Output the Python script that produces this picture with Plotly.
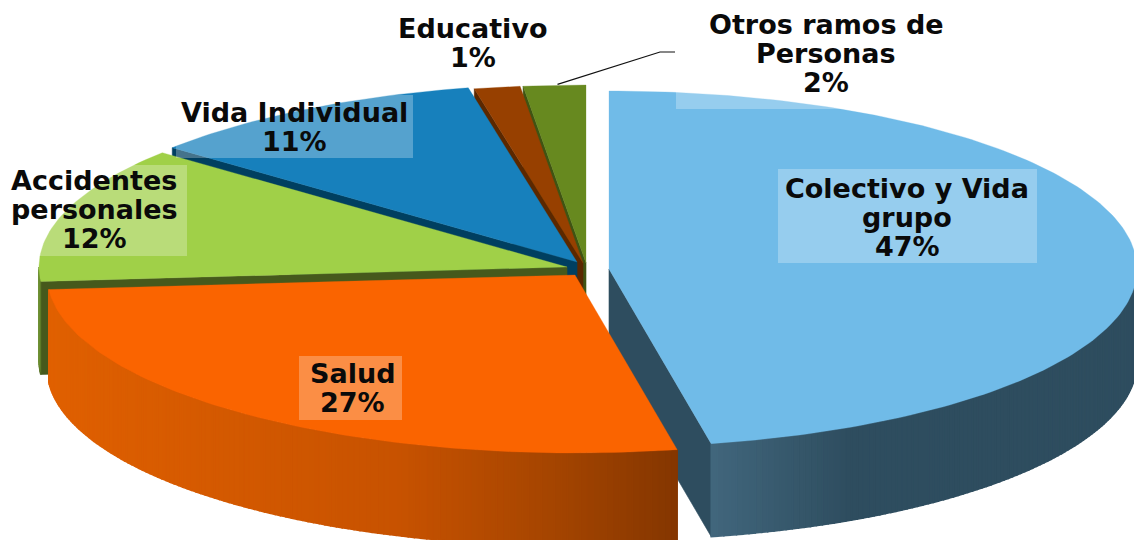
import math
import plotly.graph_objects as go

# Data (clockwise from 12 o'clock)
names = ["Colectivo y Vida grupo", "Salud", "Accidentes personales",
         "Vida Individual", "Educativo", "Otros ramos de Personas"]
values = [46.9, 26.8, 12.4, 10.6, 1.4, 1.9]
label_lines = [["Colectivo y Vida", "grupo"], ["Salud"], ["Accidentes", "personales"],
               ["Vida Individual"], ["Educativo"], ["Otros ramos de", "Personas"]]

# Styles and layout
top_colors = ["#70BBE8", "#FA6400", "#A0D048", "#1780BC", "#974000", "#67891F"]
cut_colors = ["#2E4D5F", "#863600", "#46591C", "#003F60", "#5B2800", "#3F5413"]
centers = [(609, 269), (575, 275), (567, 267), (577, 262), (583, 263), (586, 263)]
side_stops = [
    [(712, "#41667C"), (850, "#2E4D5F"), (1140, "#2E4D5F")],
    [(48, "#E06000"), (400, "#C75200"), (560, "#A34400"), (678, "#843600")],
    [(38, "#7FAA3A"), (41, "#46591C"), (60, "#46591C")],
    None, None, None,
]
RX, RY, DEPTH = 528, 178, 93
draw_order = [5, 4, 3, 2, 0, 1]
boxes = [(778, 169, 1037, 263), (299, 356, 402, 420), (2, 165, 187, 256),
         (176, 95, 413, 158), None, (676, 10, 976, 109)]
line_pos = [(907, [188, 217, 246]), (352, [373, 402]), (94, [180, 209, 238]),
            (294, [112, 141]), (473, [28, 57]), (826, [24, 53, 82])]
FONT = dict(family="DejaVu Sans", size=27, color="#0A0A0A", weight="bold")

fig = go.Figure()


def hexrgb(h):
    return tuple(int(h[i:i + 2], 16) for i in (1, 3, 5))


def color_at(stops, x):
    if x <= stops[0][0]:
        return stops[0][1]
    for (x0, c0), (x1, c1) in zip(stops, stops[1:]):
        if x <= x1:
            f = (x - x0) / (x1 - x0)
            a, b = hexrgb(c0), hexrgb(c1)
            return "#%02X%02X%02X" % tuple(round(a[i] + f * (b[i] - a[i])) for i in range(3))
    return stops[-1][1]


def rim(center, t):
    r = math.radians(t)
    return center[0] + RX * math.sin(r), center[1] - RY * math.cos(r)


def poly(points, color, width=0.6):
    fig.add_trace(go.Scatter(
        x=[p[0] for p in points], y=[p[1] for p in points], mode="lines",
        fill="toself", fillcolor=color, line=dict(color=color, width=width),
        hoverinfo="skip", showlegend=False))


total = sum(values)
bounds, acc = [], 0.0
for v in values:
    bounds.append((acc, acc + v / total * 360))
    acc += v / total * 360

for i in draw_order:
    c = centers[i]
    t0, t1 = bounds[i]
    down = lambda p: (p[0], p[1] + DEPTH)
    # cut faces that look towards the viewer
    for t, n in ((t0, t0 - 90), (t1, t1 + 90)):
        if math.cos(math.radians(n)) < -1e-6:
            p = rim(c, t)
            poly([c, p, down(p), down(c), c], cut_colors[i])
    # outer wall, front half only
    a, b = max(t0, 90), min(t1, 270)
    if side_stops[i] and b > a:
        n = max(1, int((b - a) / 0.7))
        for k in range(n):
            s0, s1 = a + (b - a) * k / n, a + (b - a) * (k + 1) / n
            p0, p1 = rim(c, s0), rim(c, s1)
            poly([p0, p1, down(p1), down(p0), p0],
                 color_at(side_stops[i], (p0[0] + p1[0]) / 2), 1.5)
    # top surface
    n = max(3, int((t1 - t0) / 1.0))
    poly([c] + [rim(c, t0 + (t1 - t0) * k / n) for k in range(n + 1)] + [c], top_colors[i], 0.3)

# leader line for the smallest slice label
mid = rim(centers[5], (bounds[5][0] + bounds[5][1]) / 2)
fig.add_trace(go.Scatter(x=[mid[0] + 3, 660, 675], y=[mid[1] - 1, 52, 52], mode="lines",
                         line=dict(color="#111111", width=1.2), hoverinfo="skip", showlegend=False))

shapes = []
for box in boxes:
    if box:
        shapes.append(dict(type="rect", xref="x", yref="y", x0=box[0], y0=box[1], x1=box[2], y1=box[3],
                           fillcolor="rgba(255,255,255,0.27)", line=dict(width=0), layer="above"))

annotations = []
for i, (x, ys) in enumerate(line_pos):
    rows = label_lines[i] + ["%d%%" % round(values[i])]
    for row, y in zip(rows, ys):
        annotations.append(dict(x=x, y=y, xref="x", yref="y", text=row, showarrow=False,
                                xanchor="center", yanchor="middle", font=FONT))

fig.update_layout(
    width=1134, height=540, margin=dict(l=0, r=0, t=0, b=0),
    paper_bgcolor="white", plot_bgcolor="white", showlegend=False,
    xaxis=dict(range=[0, 1134], visible=False, fixedrange=True),
    yaxis=dict(range=[540, 0], visible=False, fixedrange=True),
    shapes=shapes, annotations=annotations,
)
fig.write_html("out.html", config=dict(displayModeBar=False),
               post_script="document.body.style.margin='0';document.documentElement.style.overflow='hidden';")
